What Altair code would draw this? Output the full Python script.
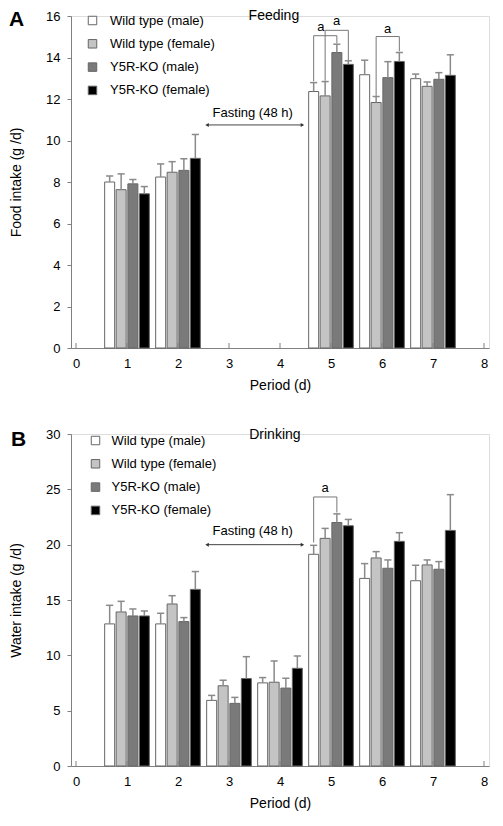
import altair as alt
import pandas as pd

# ---------------- data ----------------
periods = [1, 2, 3, 4, 5, 6, 7]
groups = ["Wild type (male)", "Wild type (female)", "Y5R-KO (male)", "Y5R-KO (female)"]
group_colors = ["#ffffff", "#c4c4c4", "#7a7a7a", "#000000"]
bar_offsets = [-0.34, -0.115, 0.115, 0.34]

# Panel A: food intake (g/d); periods 3-4 = fasting (no bars)
food_wt_male = [8.00, 8.24, None, None, 12.36, 13.17, 12.98]
food_wt_female = [7.63, 8.47, None, None, 12.15, 11.83, 12.61]
food_ko_male = [7.91, 8.56, None, None, 14.24, 13.03, 12.95]
food_ko_female = [7.43, 9.14, None, None, 13.67, 13.81, 13.14]
food_err_wt_male = [0.29, 0.63, None, None, 0.43, 0.70, 0.22]
food_err_wt_female = [0.76, 0.51, None, None, 0.69, 0.29, 0.21]
food_err_ko_male = [0.21, 0.56, None, None, 0.40, 0.77, 0.32]
food_err_ko_female = [0.35, 1.15, None, None, 0.17, 0.43, 0.99]

# Panel B: water intake (g/d)
water_wt_male = [12.84, 12.84, 5.93, 7.51, 19.13, 16.95, 16.74]
water_wt_female = [13.92, 14.64, 7.25, 7.57, 20.57, 18.80, 18.17]
water_ko_male = [13.56, 13.05, 5.66, 7.04, 22.00, 17.87, 17.78]
water_ko_female = [13.56, 15.96, 7.90, 8.83, 21.71, 20.30, 21.29]
water_err_wt_male = [1.68, 0.96, 0.45, 0.48, 0.81, 1.34, 1.40]
water_err_wt_female = [0.96, 0.75, 0.50, 1.92, 0.90, 0.57, 0.45]
water_err_ko_male = [0.63, 0.36, 0.54, 0.89, 0.78, 0.75, 0.69]
water_err_ko_female = [0.45, 1.61, 1.98, 1.11, 0.57, 0.78, 3.23]

# significance brackets ("a")
food_br_period = [5, 5, 6]
food_br_left = [0, 1, 1]
food_br_right = [2, 3, 3]
food_br_top = [15.05, 15.31, 15.01]
food_br_left_bottom = [12.85, 12.88, 12.15]
food_br_right_bottom = [14.68, 13.87, 14.30]
food_br_label_x = [4.80, 5.11, 6.11]
food_br_label_y = [15.45, 15.75, 15.39]

water_br_period = [5]
water_br_left = [0]
water_br_right = [2]
water_br_top = [24.31]
water_br_left_bottom = [20.2]
water_br_right_bottom = [22.9]
water_br_label_x = [4.885]
water_br_label_y = [25.08]

fasting_start, fasting_end = 2.57, 4.44
FONT = "Liberation Sans"


def bar_frame(means, errs):
    rows = []
    for gi, (m_list, e_list) in enumerate(zip(means, errs)):
        for p, m, e in zip(periods, m_list, e_list):
            if m is None:
                continue
            x = p + bar_offsets[gi]
            rows.append(dict(group=groups[gi], order=gi, x=x, mean=m, top=m + e,
                             cl=x - 0.07, cr=x + 0.07))
    return pd.DataFrame(rows)


def bracket_frame(bp, bl, br, top, lb, rb):
    rows = []
    for p, l, r, t, b1, b2 in zip(bp, bl, br, top, lb, rb):
        xl = p + bar_offsets[l]
        xr = p + bar_offsets[r]
        rows.append(dict(x=xl, x2=xr, y=t, y2=t))
        rows.append(dict(x=xl, x2=xl, y=b1, y2=t))
        rows.append(dict(x=xr, x2=xr, y=b2, y2=t))
    return pd.DataFrame(rows)


def panel(df, br_df, lab_x, lab_y, ymax, ystep, ytitle, title_text, title_x, title_y,
          arrow_y, fast_y, letter, letter_x, letter_y, leg_x, leg_y, leg_row, leg_off, W, H):
    xscale = alt.Scale(domain=[0, 8], nice=False, zero=False)
    yscale = alt.Scale(domain=[0, ymax], nice=False)
    xaxis = alt.Axis(values=list(range(9)), tickSize=0, labelPadding=9, title="Period (d)",
                     titlePadding=8, grid=False, domainColor="#808080", labelFlush=False,
                     labelFontSize=13, titleFontSize=14, titleFontWeight="normal",
                     labelColor="#000", titleColor="#000")
    yaxis = alt.Axis(values=list(range(0, ymax + 1, ystep)), tickSize=4, tickColor="#808080",
                     labelPadding=7, title=ytitle, titlePadding=22, grid=False,
                     domainColor="#808080", labelFontSize=13, titleFontSize=14,
                     titleFontWeight="normal", labelColor="#000", titleColor="#000")
    legend = alt.Legend(title=None, orient="none", legendX=leg_x, legendY=leg_y,
                        symbolType="square", symbolSize=72, symbolStrokeColor="#666",
                        symbolStrokeWidth=1, labelFontSize=13, labelOffset=leg_off,
                        rowPadding=leg_row, padding=0, labelColor="#000", labelFont=FONT)

    base = alt.Chart(df)
    bars = base.mark_bar(size=10, stroke="#666", strokeWidth=1, orient="vertical").encode(
        x=alt.X("x:Q", scale=xscale, axis=xaxis),
        y=alt.Y("mean:Q", scale=yscale, axis=yaxis),
        fill=alt.Fill("group:N", scale=alt.Scale(domain=groups, range=group_colors),
                      sort=groups, legend=legend),
    )
    err = base.mark_rule(color="#8a8a8a", strokeWidth=1.5).encode(
        x="x:Q", y="mean:Q", y2="top:Q")
    caps = base.mark_rule(color="#8a8a8a", strokeWidth=1.5).encode(
        x="cl:Q", x2="cr:Q", y="top:Q")

    ticks = alt.Chart(pd.DataFrame({"t": list(range(9))})).mark_rule(
        color="#808080", strokeWidth=1).encode(
        x="t:Q", y=alt.value(H), y2=alt.value(H - 5))

    brackets = alt.Chart(br_df).mark_rule(color="#777", strokeWidth=1).encode(
        x="x:Q", x2="x2:Q", y="y:Q", y2="y2:Q")
    br_labels = alt.Chart(pd.DataFrame({"x": lab_x, "y": lab_y, "t": ["a"] * len(lab_x)})).mark_text(
        font=FONT, fontSize=13, color="#000", baseline="middle").encode(
        x="x:Q", y="y:Q", text="t:N")

    fdf = pd.DataFrame({"x": [fasting_start], "x2": [fasting_end], "y": [arrow_y],
                        "tx": [(fasting_start + fasting_end) / 2 - 0.04], "ty": [fast_y],
                        "t": ["Fasting (48 h)"]})
    arrow = alt.Chart(fdf).mark_rule(color="#444", strokeWidth=1).encode(
        x="x:Q", x2="x2:Q", y="y:Q")
    head_l = alt.Chart(fdf).mark_point(shape="triangle-left", size=16, filled=True,
                                       color="#333", opacity=1).encode(x="x:Q", y="y:Q")
    head_r = alt.Chart(fdf).mark_point(shape="triangle-right", size=16, filled=True,
                                       color="#333", opacity=1).encode(x="x2:Q", y="y:Q")
    fast_txt = alt.Chart(fdf).mark_text(font=FONT, fontSize=13, color="#000",
                                        baseline="middle").encode(
        x="tx:Q", y="ty:Q", text="t:N")

    tdf = pd.DataFrame({"x": [title_x], "y": [title_y], "t": [title_text]})
    title = alt.Chart(tdf).mark_text(font=FONT, fontSize=14, color="#000",
                                     baseline="middle").encode(x="x:Q", y="y:Q", text="t:N")

    letter_mark = alt.Chart(pd.DataFrame({"t": [letter]})).mark_text(
        font=FONT, fontSize=21, fontWeight="bold", color="#000", align="left",
        baseline="alphabetic").encode(text="t:N", x=alt.value(letter_x), y=alt.value(letter_y))

    return alt.layer(bars, err, caps, ticks, brackets, br_labels, arrow, head_l, head_r,
                     fast_txt, title, letter_mark).properties(width=W, height=H)


W, H = 418, 332
food_df = bar_frame([food_wt_male, food_wt_female, food_ko_male, food_ko_female],
                    [food_err_wt_male, food_err_wt_female, food_err_ko_male, food_err_ko_female])
water_df = bar_frame([water_wt_male, water_wt_female, water_ko_male, water_ko_female],
                     [water_err_wt_male, water_err_wt_female, water_err_ko_male, water_err_ko_female])
food_br = bracket_frame(food_br_period, food_br_left, food_br_right, food_br_top,
                        food_br_left_bottom, food_br_right_bottom)
water_br = bracket_frame(water_br_period, water_br_left, water_br_right, water_br_top,
                         water_br_left_bottom, water_br_right_bottom)

panel_a = panel(food_df, food_br, food_br_label_x, food_br_label_y, 16, 2,
                "Food intake (g /d)", "Feeding", 3.88, 16.0, 10.75, 11.34,
                "A", -62, 10, 15, -2, 9.3, 11, W, H)
panel_b = panel(water_df, water_br, water_br_label_x, water_br_label_y, 30, 5,
                "Water intake (g /d)", "Drinking", 3.90, 29.9, 20.0, 21.19,
                "B", -60, 12, 18, 0, 9.3, 9.5, W, H)

chart = alt.vconcat(panel_a, panel_b, spacing=34).resolve_scale(
    fill="independent").resolve_legend(fill="independent").properties(
    padding=0).configure_view(stroke=None).configure(font=FONT).configure_text(font=FONT)

chart.save("out.html", embed_options={"renderer": "svg", "actions": False})
